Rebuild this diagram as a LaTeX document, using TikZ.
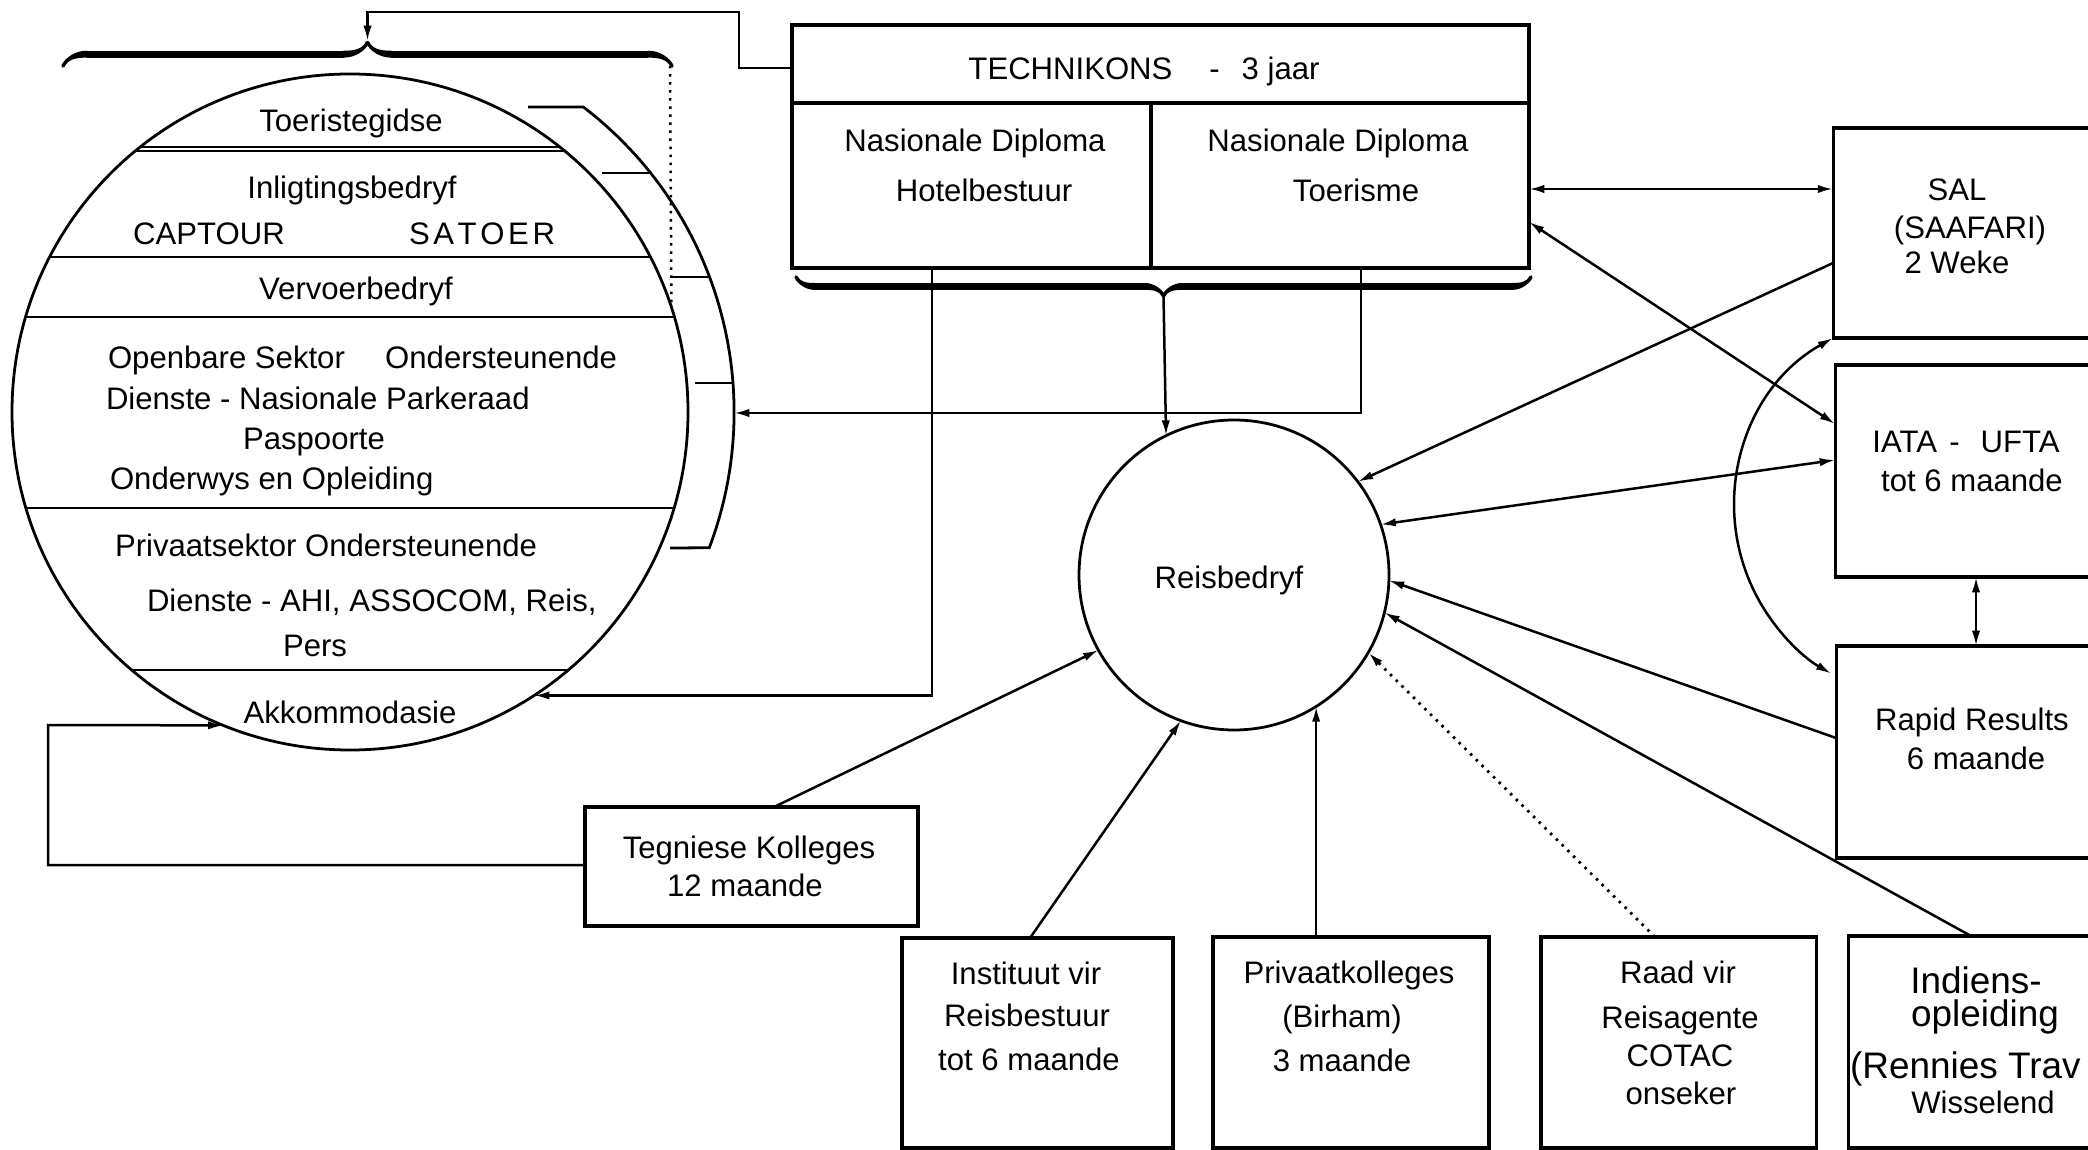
\documentclass[tikz,border=0pt]{standalone}
\usepackage{fontspec}
\newfontfamily\lbl{Liberation Sans}
\usetikzlibrary{arrows.meta,decorations.pathreplacing,calligraphy}

\begin{document}
\begin{tikzpicture}[x=0.36pt,y=-0.36pt,
  lab/.style={font=\lbl\fontsize{11.2}{13}\selectfont, inner sep=0pt, outer sep=0pt, text height=8pt, text depth=0pt},
  labw/.style={lab, anchor=west},
  big/.style={lab, font=\lbl\fontsize{13.3}{15}\selectfont, text height=9.5pt},
  bx/.style 2 args={draw, line width=1.1pt, rectangle, inner sep=0pt, outer sep=0pt, anchor=north west,
                    minimum width=#1*0.36pt, minimum height=#2*0.36pt},
  conn/.style={line width=0.9pt},
  arr/.style={conn, -{Latex[length=5.5pt,width=3pt]}},
  darr/.style={conn, {Latex[length=5.5pt,width=3pt]}-{Latex[length=5.5pt,width=3pt]}},
  brc/.style={decorate, line width=2.5pt, pen colour={black}}]

\useasboundingbox (0,0) rectangle (2088,1150);
\clip (0,0) rectangle (2088,1150);

% ---------- the tourism sectors (left circle) ----------
\node[circle, draw, line width=1pt, minimum size=676*0.36pt, inner sep=0pt, outer sep=0pt] (oval) at (350,412) {};
\begin{scope}
  \clip (350,412) circle [radius=338];
  \foreach \yy in {147,151,257,317,508,670}
    \draw[line width=1pt] (0,\yy) -- (720,\yy);
\end{scope}

\node[lab] (sToer) at (351,120) {Toeristegidse};
\node[lab] (sInl) at (352,187) {Inligtingsbedryf};
\node[lab] (sCap) at (209,233) {CAPTOUR};
\node[lab] (sSat) at (482,233) {S\kern1.3pt A\kern1.3pt T\kern1.3pt O\kern1.3pt E\kern1.3pt R};
\node[lab] (sVer) at (356,288) {Vervoerbedryf};
\node[labw] (sOpe) at (108,357) {Openbare Sektor};
\node[lab, anchor=east] (sOnd) at (617,357) {Ondersteunende};
\node[labw] (sDie) at (106,398) {Dienste - Nasionale Parkeraad};
\node[lab] (sPas) at (314,438) {Paspoorte};
\node[labw] (sOnw) at (110,478) {Onderwys en Opleiding};
\node[labw] (sPri) at (115,545) {Privaatsektor Ondersteunende};
\node[labw] (sAhi) at (147,600) {Dienste - AHI, ASSOCOM, Reis,};
\node[lab] (sPer) at (315,645) {Pers};
\node[lab] (sAkk) at (350,712) {Akkommodasie};

% bracket on the right of the circle, with its ticks
\draw[line width=1pt] (528,107) -- (583.3,107) arc[start angle=-52.6, end angle=20.7, radius=384] -- (670,548);
\draw[line width=1pt] (602,173) -- (650.6,173);
\draw[line width=1pt] (672,277) -- (709.5,277);
\draw[line width=1pt] (695,383) -- (733,383);
\coordinate (arcR) at (734,413);

% brace over the circle
\draw[brc, decoration={calligraphic brace, amplitude=8.5pt}] (63,66) -- (672,66);
\coordinate (tbTip) at (367.5,41);
\draw[dotted, line width=0.9pt] (670,66) -- (oval.18.8);

% ---------- Technikons ----------
\node[bx={737}{243}] (tech) at (792,25) {};
\draw[line width=1.1pt] (tech.north west |- 0,103) -- (tech.north east |- 0,103);
\draw[line width=1.1pt] (1151,103) -- (tech.south -| 1151,0);
\node[lab] (tTech) at (1144,68) {TECHNIKONS\hspace{13.3pt}-\hspace{7.9pt}3 jaar};
\node[lab] (tNd1) at (975,140) {Nasionale Diploma};
\node[lab] (tHot) at (984,190) {Hotelbestuur};
\node[lab] (tNd2) at (1338,140) {Nasionale Diploma};
\node[lab] (tToe) at (1356,190) {Toerisme};
\draw[brc, decoration={calligraphic brace, amplitude=6.8pt}] (1531,277) -- (796,277);
\coordinate (bbTip) at (1163.5,296);

% ---------- central circle ----------
\node[circle, draw, line width=1pt, minimum size=310*0.36pt, inner sep=0pt, outer sep=0pt] (reis) at (1234,575) {};
\node[lab] (tReis) at (1229,577) {Reisbedryf};

% ---------- right column ----------
\node[bx={300}{210}] (sal) at (1833,128) {};
\node[lab] (tSal1) at (1957,189) {SAL};
\node[lab] (tSal2) at (1970,227) {(SAAFARI)};
\node[lab] (tSal3) at (1957,262) {2 Weke};

\node[bx={300}{212}] (iata) at (1835,365) {};
\node[lab] (tIat1) at (1966,441) {IATA\hspace{4.5pt}-\hspace{7.5pt}UFTA};
\node[lab] (tIat2) at (1972,480) {tot 6 maande};

\node[bx={300}{212}] (rapid) at (1836,646) {};
\node[lab] (tRap1) at (1972,719) {Rapid Results};
\node[lab] (tRap2) at (1976,758) {6 maande};

% ---------- bottom row ----------
\node[bx={333}{119}] (tegn) at (585,807) {};
\node[lab] (tTeg1) at (749,847) {Tegniese Kolleges};
\node[lab] (tTeg2) at (745,885) {12 maande};

\node[bx={271}{210}] (inst) at (902,938) {};
\node[lab] (tIns1) at (1026,973) {Instituut vir};
\node[lab] (tIns2) at (1027,1015) {Reisbestuur};
\node[lab] (tIns3) at (1029,1059) {tot 6 maande};

\node[bx={276}{211}] (priv) at (1213,937) {};
\node[lab] (tPri1) at (1349,972) {Privaatkolleges};
\node[lab] (tPri2) at (1342,1016) {(Birham)};
\node[lab] (tPri3) at (1342,1060) {3 maande};

\node[bx={275}{211}] (raad) at (1541,937) {};
\node[lab] (tRaa1) at (1678,972) {Raad vir};
\node[lab] (tRaa2) at (1680,1017) {Reisagente};
\node[lab] (tRaa3) at (1680,1055) {COTAC};
\node[lab] (tRaa4) at (1681,1093) {onseker};

\node[bx={300}{212}] (indi) at (1848,936) {};
\node[big] (tInd1) at (1976,980) {Indiens-};
\node[big] (tInd2) at (1985,1013) {opleiding};
\node[big, anchor=west] (tInd3) at (1850,1065) {(Rennies Trav};
\node[lab] (tInd4) at (1983,1102) {Wisselend};

% ---------- connectors ----------
\draw[arr] (tech.west |- 0,68) -| (739,12) -| (tbTip);
\draw[arr] (bbTip) -- (reis.116.8);
\draw[arr] (tech.south -| 932,0) |- (oval.-57.5);
\draw[arr] (tech.south -| 1361,0) |- (arcR);
\draw[darr] (tech.east |- 0,189) -- (sal.west |- 0,189);
\draw[darr] (tech.east |- 0,222) -- (iata.west |- 0,424);
\draw[arr] (sal.west |- 0,263) -- (reis.37.7);
\draw[darr] (iata.west |- 0,460) -- (reis.19.3);
\draw[arr] (rapid.west |- 0,738) -- (reis.-2.6);
\draw[arr] (indi.north -| 1971,0) -- (reis.-14.7);
\draw[arr, dotted, line width=1pt] (raad.north -| 1655,0) -- (reis.-30.7);
\draw[arr] (reis.-58.9 |- priv.north) -- (reis.-58.9);
\draw[arr] (inst.north -| 1030,0) -- (reis.250.9);
\draw[arr] (tegn.north -| 774,0) -- (reis.209.1);
\draw[arr] (tegn.west |- 0,865) -| (48,725) -- (oval.-112.2);
\draw[darr] (iata.south -| 1976,0) -- (rapid.north -| 1976,0);
\draw[darr] (sal.south west) arc[start angle=-119.3, end angle=-240.1, radius=193];

\end{tikzpicture}
\end{document}
